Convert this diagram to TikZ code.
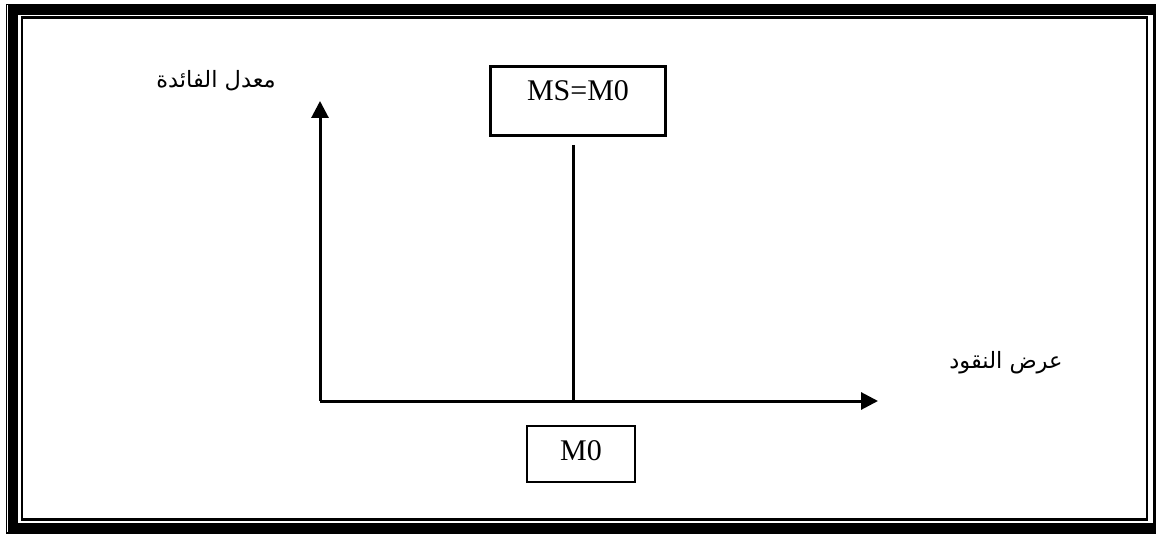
\documentclass[tikz,border=0pt]{standalone}
\usepackage{fontspec}
\setmainfont{Liberation Serif}
\newfontfamily\arabicfont[Script=Arabic]{DejaVu Sans}
\TeXXeTstate=1
\usetikzlibrary{arrows.meta}
\tikzset{
  axis/.style={line width=3pt, -{Triangle[length=17pt,width=17pt]}},
  valbox/.style={draw, line width=2.8pt, inner sep=0pt},
  valtext/.style={font=\fontsize{30}{32}\selectfont, inner sep=0pt},
  arlabel/.style={font=\arabicfont\fontsize{22.5}{26}\selectfont, inner sep=0pt},
}
\begin{document}
\begin{tikzpicture}[x=1pt,y=-1pt]
\useasboundingbox (0,0) rectangle (1156,534);
\fill[white] (0,0) rectangle (1156,534);
% triple frame: outer thin rule, thick band, inner thin rule
\draw[line width=1.6pt] (6.5,4.5) rectangle (1162,533);
\draw[line width=9.5pt] (13,10) rectangle (1158,528);
\draw[line width=2.6pt] (22,17.5) rectangle (1147,519.5);
% axes
\coordinate (O) at (320,401);
\coordinate (ytip) at (320,101);
\coordinate (xtip) at (878,401);
\draw[axis] (O) -- (ytip);
\draw[axis] (O) -- (xtip);
% boxes
\node[valbox, minimum width=175pt, minimum height=69pt] (ms) at (578,101) {};
\node[valtext] (mstext) at (578,91) {MS=M0};
\node[valbox, minimum width=108pt, minimum height=56pt] (m0) at (581,454) {};
\node[valtext] (m0text) at (581,451) {M0};
% money supply line
\coordinate (top) at (573,145);
\coordinate (base) at (573,401);
\draw[line width=3pt] (top) -- (base);
% axis labels
\node[arlabel] (ylab) at (216,81) {\beginR معدل الفائدة\endR};
\node[arlabel] (xlab) at (1006,363) {\beginR عرض النقود\endR};
\end{tikzpicture}
\end{document}
